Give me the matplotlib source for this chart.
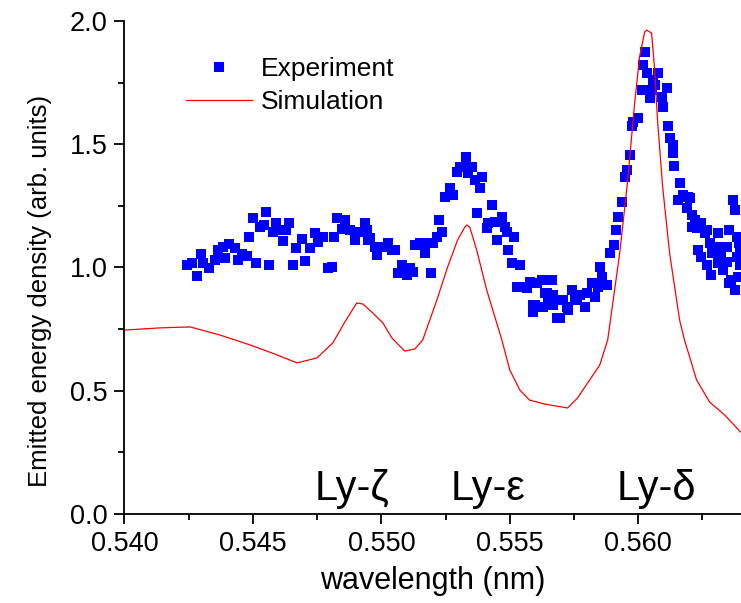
import matplotlib
matplotlib.use("Agg")
import matplotlib.pyplot as plt
from matplotlib.ticker import MultipleLocator, FormatStrFormatter

plt.rcParams['font.family'] = ['Liberation Sans', 'DejaVu Sans']

# measured spectrum (blue squares)
exp_wl = [
    0.54243, 0.54263, 0.54282, 0.54298, 0.54305, 0.54329, 0.54352, 0.54364, 0.54383, 0.54391,
    0.54406, 0.54430, 0.54441, 0.54457, 0.54477, 0.54484, 0.54500, 0.54512, 0.54527, 0.54543,
    0.54550, 0.54562, 0.54578, 0.54589, 0.54605, 0.54617, 0.54628, 0.54640, 0.54655, 0.54667,
    0.54690, 0.54702, 0.54722, 0.54741, 0.54753, 0.54772, 0.54792, 0.54807, 0.54815, 0.54827,
    0.54846, 0.54858, 0.54877, 0.54897, 0.54912, 0.54936, 0.54947, 0.54943, 0.54955, 0.54975,
    0.54982, 0.55002, 0.55025, 0.55041, 0.55052, 0.55064, 0.55080, 0.55099, 0.55111, 0.55122,
    0.55130, 0.55150, 0.55169, 0.55177, 0.55192, 0.55200, 0.55216, 0.55223, 0.55235, 0.55247,
    0.55266, 0.55278, 0.55293, 0.55305, 0.55328, 0.55328, 0.55336, 0.55352, 0.55363, 0.55371,
    0.55383, 0.55391, 0.55410, 0.55414, 0.55430, 0.55441, 0.55449, 0.55469, 0.55480, 0.55488,
    0.55492, 0.55507, 0.55515, 0.55527, 0.55539, 0.55539, 0.55558, 0.55566, 0.55577, 0.55589,
    0.55589, 0.55597, 0.55605, 0.55624, 0.55628, 0.55636, 0.55644, 0.55647, 0.55655, 0.55663,
    0.55667, 0.55667, 0.55682, 0.55694, 0.55706, 0.55721, 0.55725, 0.55741, 0.55752, 0.55760,
    0.55772, 0.55791, 0.55799, 0.55819, 0.55830, 0.55842, 0.55850, 0.55858, 0.55877, 0.55889,
    0.55904, 0.55912, 0.55920, 0.55935, 0.55947, 0.55955, 0.55967, 0.55974, 0.55978, 0.55998,
    0.56013, 0.56017, 0.56025, 0.56033, 0.56044, 0.56052, 0.56056, 0.56064, 0.56075, 0.56091,
    0.56095, 0.56110, 0.56114, 0.56122, 0.56134, 0.56134, 0.56141, 0.56161, 0.56153, 0.56173,
    0.56188, 0.56192, 0.56200, 0.56208, 0.56211, 0.56219, 0.56227, 0.56231, 0.56246, 0.56246,
    0.56258, 0.56266, 0.56266, 0.56278, 0.56285, 0.56289, 0.56309, 0.56309, 0.56309, 0.56324,
    0.56328, 0.56344, 0.56344, 0.56355, 0.56355, 0.56363, 0.56367, 0.56375, 0.56375, 0.56383,
    0.56383, 0.56392, 0.56396, 0.56390, 0.56398,
]
exp_int = [
    1.010, 1.018, 0.966, 1.055, 1.018, 0.998, 1.030, 1.071, 1.083, 1.039,
    1.095, 1.079, 1.030, 1.055, 1.047, 1.124, 1.201, 1.018, 1.164, 1.172,
    1.225, 1.010, 1.144, 1.181, 1.152, 1.108, 1.152, 1.181, 1.010, 1.079,
    1.116, 1.026, 1.079, 1.140, 1.103, 1.124, 0.998, 1.002, 1.124, 1.201,
    1.156, 1.193, 1.152, 1.112, 1.144, 1.181, 1.112, 1.152, 1.120, 1.083,
    1.051, 1.083, 1.099, 1.071, 1.071, 0.978, 1.010, 0.970, 0.998, 0.982,
    1.091, 1.099, 1.059, 1.099, 0.978, 1.099, 1.124, 1.193, 1.144, 1.286,
    1.323, 1.294, 1.387, 1.408, 1.448, 1.408, 1.383, 1.408, 1.355, 1.221,
    1.323, 1.367, 1.160, 1.181, 1.254, 1.185, 1.112, 1.205, 1.164, 1.144,
    1.071, 1.018, 1.124, 0.921, 1.010, 0.921, 0.921, 0.917, 0.941, 0.848,
    0.819, 0.848, 0.937, 0.949, 0.840, 0.897, 0.897, 0.856, 0.949, 0.949,
    0.888, 0.848, 0.795, 0.795, 0.868, 0.840, 0.828, 0.909, 0.868, 0.880,
    0.888, 0.840, 0.897, 0.937, 0.880, 0.921, 1.002, 0.961, 0.929, 1.059,
    1.091, 1.152, 1.205, 1.266, 1.367, 1.396, 1.456, 1.574, 1.590, 1.606,
    1.720, 1.821, 1.874, 1.789, 1.688, 1.720, 1.761, 1.740, 1.789, 1.692,
    1.651, 1.728, 1.574, 1.525, 1.497, 1.465, 1.412, 1.343, 1.274, 1.294,
    1.241, 1.286, 1.282, 1.213, 1.164, 1.193, 1.160, 1.071, 1.181, 1.043,
    1.140, 1.152, 1.010, 1.099, 0.970, 1.059, 1.140, 1.083, 1.018, 1.059,
    0.990, 1.083, 1.022, 1.152, 0.937, 0.949, 1.274, 1.233, 0.909, 1.124,
    1.043, 1.100, 1.010, 0.960, 1.060,
]

# simulated spectrum (red line)
sim_wl = [
    0.54000, 0.54138, 0.54255, 0.54372, 0.54488, 0.54585, 0.54671, 0.54749, 0.54811, 0.54858,
    0.54904, 0.54928, 0.54963, 0.55006, 0.55041, 0.55091, 0.55130, 0.55161, 0.55216, 0.55258,
    0.55297, 0.55325, 0.55333, 0.55344, 0.55371, 0.55410, 0.55449, 0.55469, 0.55500, 0.55539,
    0.55577, 0.55636, 0.55725, 0.55764, 0.55811, 0.55850, 0.55881, 0.55928, 0.55959, 0.55986,
    0.56005, 0.56025, 0.56033, 0.56052, 0.56064, 0.56075, 0.56095, 0.56122, 0.56161, 0.56180,
    0.56227, 0.56278, 0.56336, 0.56398,
]
sim_int = [
    0.746, 0.755, 0.759, 0.726, 0.686, 0.649, 0.613, 0.633, 0.694, 0.779,
    0.856, 0.852, 0.819, 0.775, 0.714, 0.661, 0.669, 0.706, 0.868, 1.002,
    1.112, 1.164, 1.172, 1.164, 1.071, 0.909, 0.775, 0.706, 0.584, 0.503,
    0.462, 0.446, 0.430, 0.471, 0.544, 0.604, 0.706, 1.059, 1.355, 1.667,
    1.854, 1.955, 1.963, 1.951, 1.801, 1.598, 1.327, 1.059, 0.787, 0.706,
    0.544, 0.454, 0.402, 0.333,
]

line_names = ['Ly-ζ', 'Ly-ε', 'Ly-δ']
line_pos = [0.54885, 0.55414, 0.56072]

fig = plt.figure(figsize=(7.41, 6.03), dpi=100)
ax = fig.add_axes([0.168, 0.1476, 0.832, 0.8176])

ax.plot(exp_wl, exp_int, linestyle='none', marker='s', markersize=7,
        color='#0000ff', markeredgewidth=0, label='Experiment')
ax.plot(sim_wl, sim_int, color='#ff0000', linewidth=0.9, label='Simulation')

for name, pos in zip(line_names, line_pos):
    ax.text(pos, 0.057, name, ha='center', va='baseline', fontsize=30)

ax.set_xlim(0.540, 0.564)
ax.set_ylim(0.0, 2.0)
ax.xaxis.set_major_locator(MultipleLocator(0.005))
ax.xaxis.set_minor_locator(MultipleLocator(0.0025))
ax.yaxis.set_major_locator(MultipleLocator(0.5))
ax.yaxis.set_minor_locator(MultipleLocator(0.25))
ax.xaxis.set_major_formatter(FormatStrFormatter('%.3f'))
ax.yaxis.set_major_formatter(FormatStrFormatter('%.1f'))

for s in ['top', 'right']:
    ax.spines[s].set_visible(False)
for s in ['left', 'bottom']:
    ax.spines[s].set_linewidth(1.3)
ax.tick_params(which='major', direction='out', length=7, width=1.3, labelsize=19.5, pad=5)
ax.tick_params(which='minor', direction='out', length=4, width=1.3)

ax.set_xlabel('wavelength (nm)', fontsize=22, labelpad=7)
ax.set_ylabel('Emitted energy density (arb. units)', fontsize=18.5)
ax.yaxis.set_label_coords(-0.118, 0.452)

fig.legend(loc='upper left', bbox_to_anchor=(186 / 741, 1 - 57 / 603), frameon=False,
           fontsize=19, numpoints=1, handlelength=2.5, handletextpad=0.35,
           labelspacing=0.35, borderpad=0, borderaxespad=0)

fig.savefig('out.png', dpi=100)
